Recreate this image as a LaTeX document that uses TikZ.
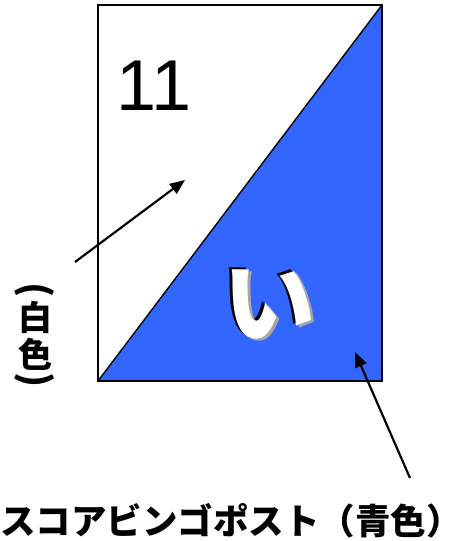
\documentclass[tikz,border=0pt]{standalone}
\usepackage{fontspec}
\setmainfont{Liberation Sans}
\newfontfamily\jpfont{Noto Sans CJK JP}
\usetikzlibrary{arrows.meta, positioning}
\definecolor{postblue}{RGB}{51,102,255}
\newcommand{\embossed}[1]{%
  \makebox[0pt][l]{\hspace*{-3pt}\raisebox{2pt}{\color{black}#1}}%
  \makebox[0pt][l]{\hspace*{3pt}\raisebox{-2pt}{\color{black!35}#1}}%
  {\color{white}#1}}
\tikzset{
  post/.style    ={line width=1.4pt, black},
  bluepart/.style={fill=postblue},
  ptr/.style     ={-{Triangle[length=15pt, width=12pt]}, line width=2.2pt},
  numlbl/.style  ={font=\fontsize{72}{72}\selectfont, inner sep=0pt},
  kana/.style    ={font=\jpfont\bfseries\fontsize{92}{92}\selectfont, inner sep=0pt},
  vlbl/.style    ={font=\jpfont\bfseries\fontsize{34}{34}\selectfont, inner sep=0pt},
  vparen/.style  ={font=\jpfont\bfseries\fontsize{38}{38}\selectfont, inner sep=0pt, rotate=-90},
  capt/.style    ={font=\jpfont\bfseries\fontsize{35.5}{35.5}\selectfont, inner sep=0pt},
}

\begin{document}
\begin{tikzpicture}[x=1pt, y=-1pt]
  \useasboundingbox (0,0) rectangle (461,541);
  % post corners
  \coordinate (tl) at (98,5);
  \coordinate (tr) at (382,5);
  \coordinate (bl) at (98,381);
  \coordinate (br) at (382,381);
  \fill[bluepart] (bl) -- (tr) -- (br) -- cycle;
  \draw[post] (tl) rectangle (br);
  \draw[post] (bl) -- (tr);
  % labels on the post
  \node[numlbl] (num) at (154,86) {11};
  \node[kana] (kana) at (269,304) {\embossed{い}};
  % vertical label, white part
  \node[vparen] (wpo) at (35,290) {(};
  \node[vlbl] (w1) at (35,317) {白};
  \node[vlbl] (w2) at (35,354) {色};
  \node[vparen] (wpc) at (35,380) {)};
  % caption, blue part
  \node[capt, anchor=west] (cap) at (0,521) {スコアビンゴポスト（青色\makebox[0.55em][l]{）}};
  % pointers
  \coordinate (wtail) at (75,262);
  \coordinate (whead) at (185,180);
  \coordinate (btail) at (410,478);
  \coordinate (bhead) at (355,352);
  \draw[ptr] (wtail) -- (whead);
  \draw[ptr] (btail) -- (bhead);
\end{tikzpicture}
\end{document}
